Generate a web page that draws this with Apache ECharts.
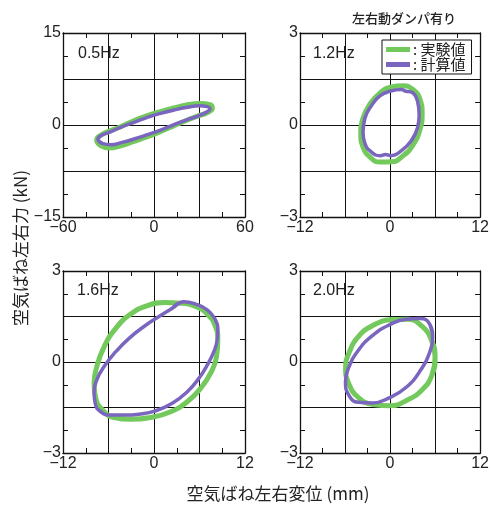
<!DOCTYPE html>
<html><head><meta charset="utf-8">
<script src="https://cdn.jsdelivr.net/npm/echarts@6/dist/echarts.min.js"></script>
<style>html,body{margin:0;padding:0;background:#fff}#c{width:492px;height:508px}</style>
</head><body><div id="c"></div>
<script>
const panelLabels = ['0.5Hz', '1.2Hz', '1.6Hz', '2.0Hz'];
const seriesNames = ['実験値', '計算値'];
const xRanges = [[-60, 60, 30], [-12, 12, 6], [-12, 12, 6], [-12, 12, 6]];
const yRanges = [[-15, 15, 7.5], [-3, 3, 1.5], [-3, 3, 1.5], [-3, 3, 1.5]];
const xTickLabels = [[-60, 0, 60], [-12, 0, 12], [-12, 0, 12], [-12, 0, 12]];
const yTickLabels = [[-15, 0, 15], [-3, 0, 3], [-3, 0, 3], [-3, 0, 3]];

const p05_exp = [[-37.8,-2.45],[-35.1,-3.38],[-29.7,-3.75],[-22,-3.38],[-13.2,-2.67],[-4.4,-1.91],[4.4,-1.04],[13.2,-0.11],[22,0.82],[29.7,1.52],[35.6,2.06],[38.5,2.77],[36.9,3.31],[30.8,3.52],[22,3.31],[13.2,2.77],[4.4,2.17],[-4.4,1.52],[-13.2,0.7],[-22,-0.28],[-29.7,-1.04],[-35.6,-1.75]];
const p05_calc = [[-36.9,-2.29],[-34.1,-3.0],[-28.6,-3.21],[-20.9,-2.83],[-13.2,-2.29],[-4.4,-1.58],[4.4,-0.82],[13.2,0.05],[22,0.87],[29.7,1.52],[35.1,2.17],[36.9,2.6],[35.1,2.99],[29.7,3.15],[22,2.88],[13.2,2.44],[4.4,1.9],[-4.4,1.25],[-13.2,0.43],[-22,-0.38],[-29.7,-1.2],[-35.1,-1.75]];
const p12_exp = [[4.28,0.38],[3.98,0.84],[3.08,1.15],[1.76,1.28],[0.2,1.24],[-1.36,1.04],[-2.68,0.68],[-3.6,0.22],[-3.9,-0.3],[-3.6,-0.72],[-2.7,-1.04],[-1.36,-1.21],[0.2,-1.2],[1.76,-1.0],[3.08,-0.64],[3.98,-0.15]];
const p12_calc = [[3.88,0.33],[3.66,0.78],[2.77,1.08],[2.1,1.1],[1.5,1.16],[0.1,1.11],[-1.35,0.95],[-2.45,0.64],[-3.35,0.22],[-3.6,-0.24],[-3.35,-0.6],[-2.5,-0.88],[-1.3,-1.0],[-0.6,-0.96],[0.15,-1.0],[1.6,-0.82],[2.8,-0.52],[3.65,-0.1]];
const p16_exp = [[1.32,1.96],[3.51,1.94],[5.48,1.83],[7.02,1.58],[8.11,1.17],[8.42,0.73],[8.25,0.18],[7.46,-0.37],[6.14,-0.87],[4.39,-1.31],[2.19,-1.64],[-0.44,-1.83],[-3.07,-1.89],[-5.26,-1.83],[-6.8,-1.58],[-7.68,-1.2],[-7.9,-0.7],[-7.54,-0.15],[-6.58,0.5],[-5.04,1.11],[-3.07,1.58],[-0.88,1.86]];
const p16_calc = [[3.95,1.99],[5.48,1.91],[7.02,1.72],[7.98,1.44],[8.42,1.11],[8.33,0.73],[7.89,0.34],[7.02,-0.1],[5.92,-0.54],[4.39,-0.98],[2.41,-1.36],[0.22,-1.61],[-1.97,-1.72],[-3.95,-1.75],[-5.7,-1.75],[-7.02,-1.64],[-7.76,-1.36],[-7.9,-0.98],[-7.54,-0.59],[-6.58,-0.15],[-5.04,0.34],[-3.29,0.78],[-1.32,1.17],[0.66,1.5],[2.41,1.77]];
const p20_exp = [[6.0,0.15],[5.55,0.7],[4.25,1.18],[2.32,1.41],[0.04,1.39],[-2.24,1.21],[-4.17,0.85],[-5.47,0.3],[-5.92,-0.18],[-5.47,-0.73],[-4.17,-1.18],[-2.24,-1.4],[0.04,-1.44],[2.32,-1.25],[4.25,-0.92],[5.55,-0.45]];
const p20_calc = [[5.68,0.78],[5.3,1.24],[3.99,1.43],[2.11,1.41],[-0.12,1.22],[-2.35,0.87],[-4.24,0.38],[-5.5,-0.18],[-5.94,-0.65],[-5.5,-1.09],[-4.24,-1.33],[-2.35,-1.35],[-0.12,-1.18],[2.11,-0.84],[3.99,-0.3],[5.28,0.32]];

const expData = [p05_exp, p12_exp, p16_exp, p20_exp];
const calcData = [p05_calc, p12_calc, p16_calc, p20_calc];

const GREEN = '#74c95c';
const PURPLE = '#7a66bf';
const NUMFONT = '"Liberation Sans", Arial, sans-serif';
const JPFONT = '"Noto Sans CJK JP", sans-serif';

const grids = [
  {left: 63, top: 33, width: 182, height: 184},
  {left: 300, top: 33, width: 181, height: 184},
  {left: 63, top: 271, width: 182, height: 182},
  {left: 300, top: 271, width: 181, height: 182}
];

function fmt(v) { return v < 0 ? '\u2212' + Math.abs(v) : String(v); }
// close a loop so the smoothed curve has no kink at the seam
function closeLoop(p) { const n = p.length; return [p[n - 1]].concat(p, [p[0], p[1]]); }
const lineStyle = {color: '#111', width: 1.3};

const xAxes = [], yAxes = [], series = [];
for (let i = 0; i < 4; i++) {
  const [xmin, xmax, xint] = xRanges[i];
  const [ymin, ymax, yint] = yRanges[i];
  const xl = xTickLabels[i], yl = yTickLabels[i];
  const common = {type: 'value', gridIndex: i, axisLine: {show: true, onZero: false, lineStyle},
    axisTick: {show: true, inside: true, length: 5, lineStyle: {color: '#111'}},
    minorTick: {show: true, splitNumber: 2, length: 5, lineStyle: {color: '#111', width: 1}}};
  xAxes.push(Object.assign({}, common, {position: 'bottom', min: xmin, max: xmax, interval: xint,
    splitLine: {show: true, lineStyle: {color: '#111', width: 1}},
    axisLabel: {show: true, margin: 3, fontSize: 16, color: '#222', fontFamily: NUMFONT,
      formatter: v => xl.includes(v) ? fmt(v) : ''}}));
  xAxes.push(Object.assign({}, common, {position: 'top', min: xmin, max: xmax, interval: xint,
    splitLine: {show: false}, axisLabel: {show: false}}));
  yAxes.push(Object.assign({}, common, {position: 'left', min: ymin, max: ymax, interval: yint,
    splitLine: {show: true, lineStyle: {color: '#111', width: 1}},
    axisLabel: {show: true, margin: 2, fontSize: 16, color: '#222', fontFamily: NUMFONT,
      formatter: v => yl.includes(v) ? fmt(v) : ''}}));
  yAxes.push(Object.assign({}, common, {position: 'right', min: ymin, max: ymax, interval: yint,
    splitLine: {show: false}, axisLabel: {show: false}}));
  series.push({name: seriesNames[0], type: 'line', xAxisIndex: 2 * i, yAxisIndex: 2 * i, data: closeLoop(expData[i]),
    smooth: 0.5, showSymbol: false, lineStyle: {color: GREEN, width: 5}, itemStyle: {color: GREEN}, z: 3});
  series.push({name: seriesNames[1], type: 'line', xAxisIndex: 2 * i, yAxisIndex: 2 * i, data: closeLoop(calcData[i]),
    smooth: 0.5, showSymbol: false, lineStyle: {color: PURPLE, width: 3.5}, itemStyle: {color: PURPLE}, z: 4});
}

const labelPos = [[78, 55], [313, 55], [77, 292], [313, 292]];
const graphic = panelLabels.map((t, i) => ({type: 'text', left: labelPos[i][0], top: labelPos[i][1] - 9,
  style: {text: t, fontSize: 16, fill: '#222', fontFamily: NUMFONT}}));
graphic.push({type: 'text', x: 352, y: 12, style: {text: '左右動ダンパ有り', fontSize: 13, fontWeight: 500, fill: '#222', fontFamily: JPFONT}});
graphic.push({type: 'text', x: 278, y: 494, style: {text: '空気ばね左右変位 (mm)', fontSize: 17, fill: '#222', fontFamily: JPFONT, align: 'center', verticalAlign: 'middle'}});
graphic.push({type: 'text', x: 21, y: 248, rotation: Math.PI / 2, style: {text: '空気ばね左右力 (kN)', fontSize: 17, fill: '#222', fontFamily: JPFONT, align: 'center', verticalAlign: 'middle'}});

const option = {
  backgroundColor: '#fff',
  animation: false,
  grid: grids,
  xAxis: xAxes,
  yAxis: yAxes,
  series,
  legend: {show: true, data: seriesNames, orient: 'vertical', left: 382, top: 40, width: 97,
    padding: [2, 6, 2, 4], itemGap: 0, itemWidth: 24, itemHeight: 5, icon: 'rect',
    borderColor: '#111', borderWidth: 1, backgroundColor: '#fff',
    textStyle: {fontSize: 15, color: '#222', fontFamily: JPFONT, padding: [0, 0, 0, -2]},
    formatter: n => ': ' + n, selectedMode: false},
  graphic
};
const chart = echarts.init(document.getElementById('c'), null, {renderer: 'canvas'});
chart.setOption(option);
</script></body></html>
